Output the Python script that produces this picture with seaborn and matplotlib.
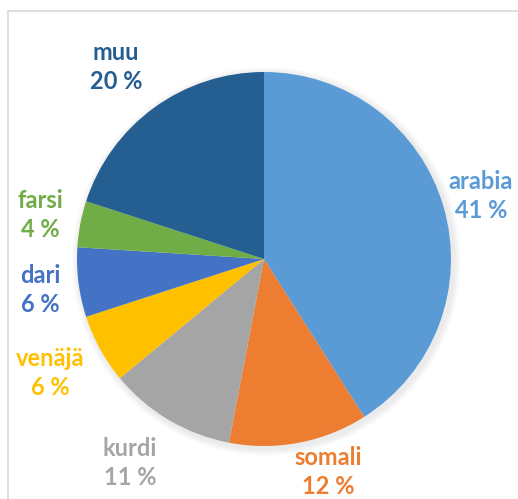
import matplotlib.pyplot as plt
import seaborn as sns
from matplotlib.patches import Circle

sns.set_style("white")
plt.rcParams["font.family"] = ["Lato", "DejaVu Sans"]

# data
kielet = ["arabia", "somali", "kurdi", "venäjä", "dari", "farsi", "muu"]
osuudet = [41, 12, 11, 6, 6, 4, 20]
varit = ["#5B9BD5", "#ED7D31", "#A5A5A5", "#FFC000", "#4472C4", "#70AD47", "#255E91"]

# label block centres in pixels (from top-left)
label_pos = [(481, 196), (328, 472), (130, 463), (50, 373), (40, 290), (40, 215), (116, 67)]

W, H = 518, 499
cx, cy, R = 264, 259, 187

fig = plt.figure(figsize=(W / 100, H / 100), dpi=100)
ax = fig.add_axes([0, 0, 1, 1])

# faint shadow under the pie
for i in range(3):
    ax.add_patch(Circle((0.012, -0.012), 1 + 0.012 * (i + 1), color="gray", alpha=0.05, lw=0, zorder=0))

wedges, _ = ax.pie(osuudet, colors=varit, startangle=90, counterclock=False,
                   radius=1, wedgeprops=dict(linewidth=0))
for w in wedges:
    w.set_zorder(2)

def px(x, y):
    return ((x - cx) / R, (cy - y) / R)

for nimi, arvo, vari, (lx, ly) in zip(kielet, osuudet, varit, label_pos):
    ax.text(*px(lx, ly), f"{nimi}\n{arvo} %", color=vari, fontsize=17, fontweight="bold",
            ha="center", va="center", linespacing=1.35, zorder=3)

ax.set_xlim(-cx / R, (W - cx) / R)
ax.set_ylim(-(H - cy) / R, cy / R)
ax.set_aspect("auto")
ax.axis("off")

# chart frame (left and top edges visible)
x0, y0 = px(8, 11)
x1, y1 = px(W + 5, H + 5)
ax.plot([x0, x0], [y1, y0], color="#D9D9D9", lw=1.2, zorder=1)
ax.plot([x0, x1], [y0, y0], color="#D9D9D9", lw=1.2, zorder=1)

fig.savefig("out.png", dpi=100)
